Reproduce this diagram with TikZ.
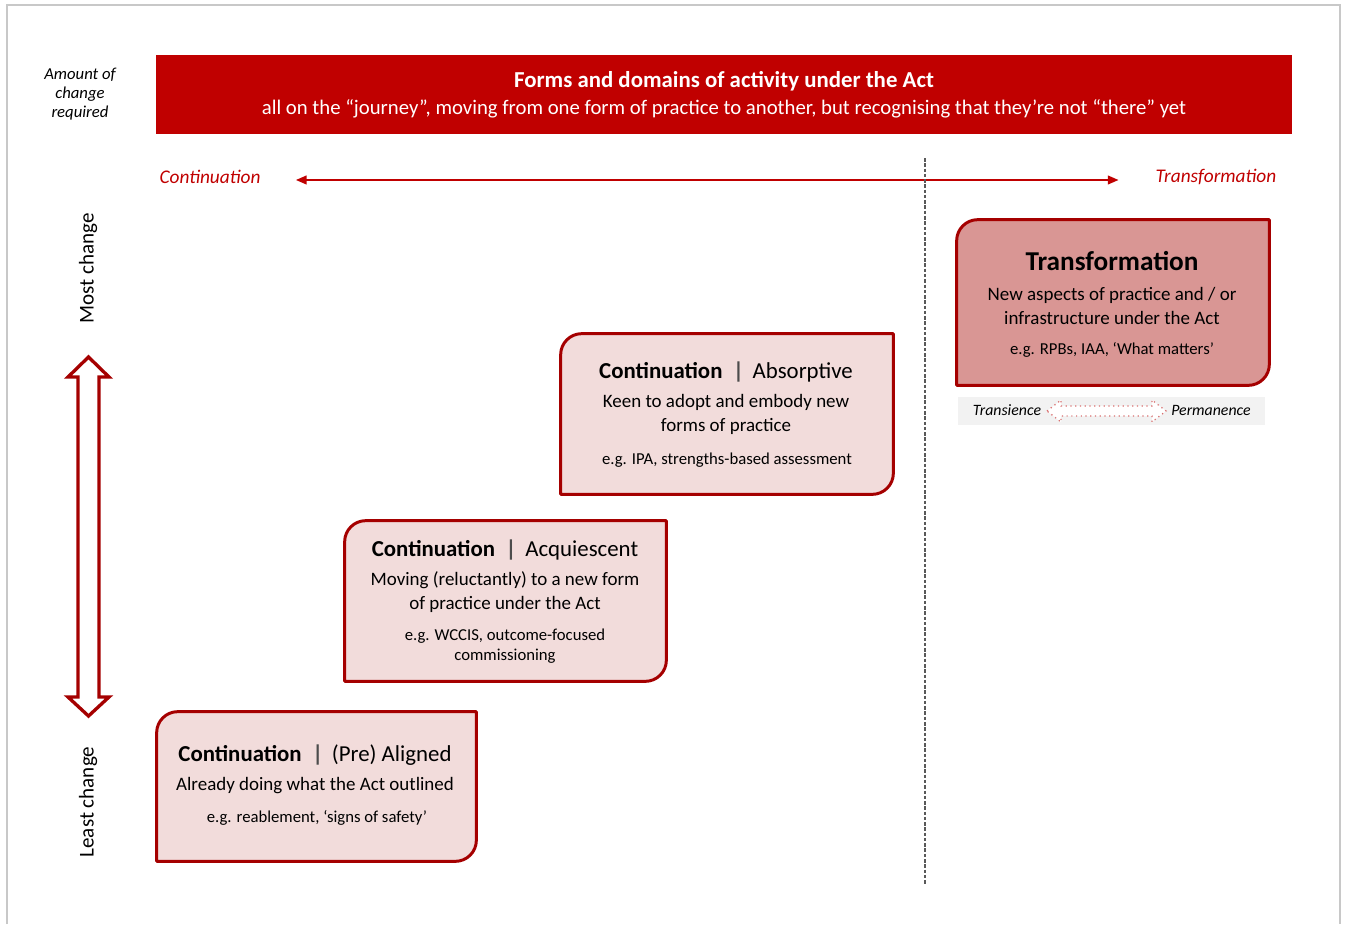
\documentclass[tikz,border=0pt]{standalone}
\usepackage{fontspec}
\setmainfont{Carlito}
\usetikzlibrary{arrows.meta,fit}

\definecolor{hdrred}{HTML}{C00000}
\definecolor{boxline}{HTML}{A50000}
\definecolor{pinkfill}{HTML}{F2DCDB}
\definecolor{transfill}{HTML}{D99694}
\definecolor{framegray}{HTML}{C8C8C8}
\definecolor{bandgray}{HTML}{F2F2F2}
\definecolor{dotpink}{HTML}{D97070}

\begin{document}
\begin{tikzpicture}[x=0.02cm, y=-0.02cm,
    lbl/.style={font=\fontsize{11}{13}\selectfont\itshape, text=hdrred, inner sep=0pt},
    sidelbl/.style={font=\fontsize{12}{14}\selectfont, rotate=90, inner sep=0pt},
    stepbox/.style={inner sep=0pt},
    boxtitle/.style={font=\fontsize{13}{15}\selectfont, inner sep=0pt},
    boxbody/.style={font=\fontsize{10.8}{13.6}\selectfont, align=center, inner sep=0pt},
    boxeg/.style={font=\fontsize{9.5}{11.3}\selectfont, align=center, inner sep=0pt},
    outline/.style={draw=boxline, line width=1.7pt, line join=round},
    redarrow/.style={draw=hdrred, line width=0.8pt, {Triangle[length=6pt,width=5pt]}-{Triangle[length=6pt,width=5pt]}},
  ]
  \useasboundingbox (0,0) rectangle (1346,924);

  % outer frame
  \draw[framegray, line width=1pt] (7,924) -- (7,5) -- (1340,5) -- (1340,924);

  % header band
  \node[fill=hdrred, minimum width=22.72cm, minimum height=1.58cm, text=white,
        align=center, font=\fontsize{11.8}{15.3}\selectfont] (header) at (724,94.5)
        {{\fontsize{13}{15.3}\selectfont\bfseries Forms and domains of activity under the Act}\\
         all on the “journey”, moving from one form of practice to another, but recognising that they’re not “there” yet};
  \node[align=center, inner sep=0pt, font=\fontsize{9.5}{10.6}\selectfont\itshape] (amount) at (80,94)
        {Amount of\\change\\required};

  % continuation -- transformation axis
  \node[lbl] (contlbl) at (210,177) {Continuation};
  \node[lbl] (translbl) at (1216,177) {Transformation};
  \draw[redarrow, shorten <=20pt, shorten >=21pt]
        ([yshift=-1.7pt]contlbl.east) -- ([yshift=-1.7pt]translbl.west);
  \draw[black!65, line width=0.6pt, dash pattern=on 2pt off 1pt] (925,158) -- (925,885);

  % amount of change
  \node[sidelbl] (most) at (88,268) {Most change};
  \node[sidelbl] (least) at (88,802) {Least change};
  \draw[boxline, line width=1.9pt, line join=miter, fill=white]
        (88.5,357) -- (109,377) -- (99,377) -- (99,697) -- (109,697) -- (88.5,716)
        -- (68,697) -- (78,697) -- (78,377) -- (68,377) -- cycle;

  % boxes
  \coordinate (alTL) at (157,712);  \coordinate (alBR) at (476,861);
  \coordinate (acTL) at (345,521);  \coordinate (acBR) at (666,681);
  \coordinate (abTL) at (561,334);  \coordinate (abBR) at (893,494);
  \coordinate (trTL) at (957,220);  \coordinate (trBR) at (1269,385);
  \node[stepbox, fit=(alTL)(alBR)] (aligned) {};
  \node[stepbox, fit=(acTL)(acBR)] (acquiescent) {};
  \node[stepbox, fit=(abTL)(abBR)] (absorptive) {};
  \node[stepbox, fit=(trTL)(trBR)] (transformation) {};
  \foreach \b/\f in {aligned/pinkfill, acquiescent/pinkfill, absorptive/pinkfill, transformation/transfill} {
    \draw[outline, fill=\f] (\b.south west) -- ([yshift=-12pt]\b.north west)
        arc[start angle=180, end angle=90, radius=12pt] -- (\b.north east)
        -- ([yshift=12pt]\b.south east)
        arc[start angle=0, end angle=-90, radius=12pt] -- cycle;
  }

  % (Pre) Aligned
  \node[boxtitle] (altitle) at (315,755) {\bfseries Continuation\hspace{6pt}{\color{black!70}|}\hspace{5pt}\mdseries (Pre) Aligned};
  \node[boxbody] (albody) at (315,786) {Already doing what the Act outlined};
  \node[boxeg] (aleg) at (317,818) {e.g. reablement, ‘signs of safety’};

  % Acquiescent
  \node[boxtitle] (actitle) at (505,550) {\bfseries Continuation\hspace{6pt}{\color{black!70}|}\hspace{5pt}\mdseries Acquiescent};
  \node[boxbody] (acbody) at (505,592) {Moving (reluctantly) to a new form\\of practice under the Act};
  \node[boxeg] (aceg) at (505,646) {e.g. WCCIS, outcome-focused\\commissioning};

  % Absorptive
  \node[boxtitle] (abtitle) at (726,372) {\bfseries Continuation\hspace{6pt}{\color{black!70}|}\hspace{5pt}\mdseries Absorptive};
  \node[boxbody] (abbody) at (726,414) {Keen to adopt and embody new\\forms of practice};
  \node[boxeg] (abeg) at (727,460) {e.g. IPA, strengths-based assessment};

  % Transformation
  \node[boxtitle, font=\fontsize{15.5}{18}\selectfont\bfseries] (trtitle) at (1112,261) {Transformation};
  \node[boxbody] (trbody) at (1112,306) {New aspects of practice and / or\\infrastructure under the Act};
  \node[boxeg] (treg) at (1112,350) {e.g. RPBs, IAA, ‘What matters’};

  % transience -- permanence
  \fill[bandgray] (958,397) rectangle (1265,425);
  \node[inner sep=0pt, font=\fontsize{9}{11}\selectfont\itshape] (transience) at (1007,410) {Transience};
  \node[inner sep=0pt, font=\fontsize{9}{11}\selectfont\itshape] (permanence) at (1211,410) {Permanence};
  \draw[dotpink, line width=0.7pt, dotted, fill=white]
        (1047,411) -- (1061,400) -- (1061,406) -- (1152,406) -- (1152,400) -- (1166,411)
        -- (1152,422) -- (1152,416) -- (1061,416) -- (1061,422) -- cycle;
\end{tikzpicture}
\end{document}
